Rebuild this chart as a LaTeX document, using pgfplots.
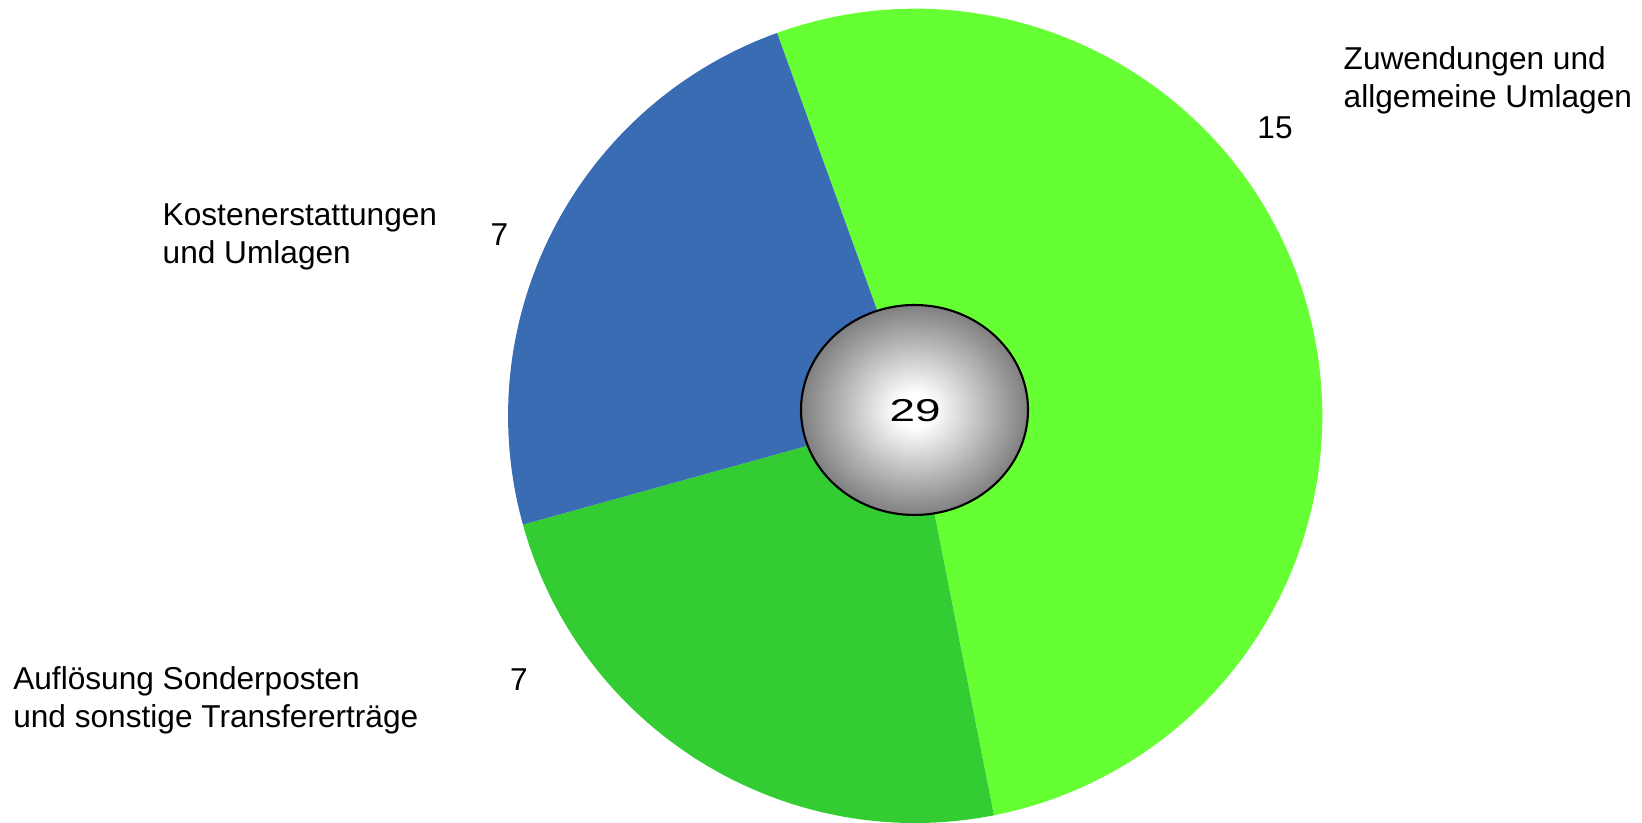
\documentclass[border=0pt]{standalone}
\usepackage{fontspec}
\setmainfont{Liberation Sans}
\usepackage{pgfplots}
\usepackage{pgfplotstable}
\pgfplotsset{compat=1.18}

\definecolor{zuw}{HTML}{66FF33}
\definecolor{aufl}{HTML}{33CC33}
\definecolor{kost}{HTML}{3A6CB4}

\pgfdeclareradialshading{centreball}{\pgfpoint{0bp}{0bp}}{%
  color(0bp)=(white); color(4bp)=(white); color(25bp)=(black!50); color(50bp)=(black!50)}

\tikzset{lbl/.style={inner sep=0pt, font=\fontsize{9}{10.8}\selectfont}}

% Ertraege (rounded in the labels)
\pgfplotstableread{
value
15.2
6.9
6.9
}\piedata

\begin{document}
\begin{tikzpicture}
\pgfplotstablegetelem{0}{value}\of\piedata \let\vA\pgfplotsretval
\pgfplotstablegetelem{1}{value}\of\piedata \let\vB\pgfplotsretval
\pgfplotstablegetelem{2}{value}\of\piedata \let\vC\pgfplotsretval
\pgfmathsetmacro\tot{\vA+\vB+\vC}
\pgfmathsetmacro\aA{109.84}
\pgfmathsetmacro\aB{\aA-360*\vA/\tot}
\pgfmathsetmacro\aC{\aB-360*\vB/\tot}
\pgfmathsetmacro\aD{\aC-360*\vC/\tot}
\def\R{40.71mm}
\begin{axis}[
  x=0.1mm, y=0.1mm,
  xmin=0, xmax=1642, ymin=0, ymax=823,
  hide axis, clip=false,
]
  \coordinate (bl) at (axis cs:0,0);
  \coordinate (tr) at (axis cs:1642,823);
  \fill[zuw]  (axis cs:915.2,407.1) -- ++(\aA:\R) arc[start angle=\aA, end angle=\aB, radius=\R] -- cycle;
  \fill[aufl] (axis cs:915.2,407.1) -- ++(\aB:\R) arc[start angle=\aB, end angle=\aC, radius=\R] -- cycle;
  \fill[kost] (axis cs:915.2,407.1) -- ++(\aC:\R) arc[start angle=\aC, end angle=\aD, radius=\R] -- cycle;

  \path[shading=centreball, draw=black, line width=0.6pt]
    (axis cs:914.5,413) ellipse [x radius=11.35mm, y radius=10.5mm];
  \node[lbl] at (axis cs:915,412) {\scalebox{1.45}[1]{29}};

  \node[lbl, anchor=west, align=left] at (axis cs:1343,743) {Zuwendungen und\\allgemeine Umlagen};
  \node[lbl] at (axis cs:1275,695) {15};
  \node[lbl, anchor=west, align=left] at (axis cs:162,586.5) {Kostenerstattungen\\und Umlagen};
  \node[lbl] at (axis cs:499.5,588) {7};
  \node[lbl, anchor=west, align=left] at (axis cs:12.6,122.5) {Auflösung Sonderposten\\und sonstige Transfererträge};
  \node[lbl] at (axis cs:519,143) {7};
\end{axis}
\pgfresetboundingbox
\path[use as bounding box] (bl) rectangle (tr);
\end{tikzpicture}
\end{document}
